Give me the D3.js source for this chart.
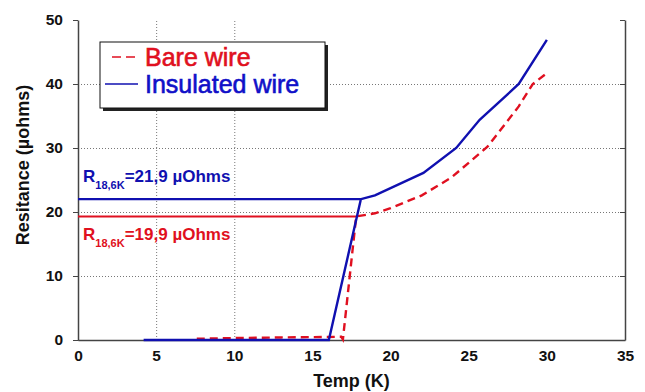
<html>
<head>
<script src="https://d3js.org/d3.v7.min.js"></script>
<style>
  body { margin: 0; background: #fff; }
  text { font-family: "Liberation Sans", Arial, sans-serif; }
  .grid line { stroke: #777; stroke-dasharray: 1,2; }
  .grid .domain { display: none; }
</style>
</head>
<body>
<svg id="chart" width="645" height="392"></svg>
<script>
// values
const xTicks = [0, 5, 10, 15, 20, 25, 30, 35];
const yTicks = [0, 10, 20, 30, 40, 50];
const xGridTicks = [5, 10];
const yGridTicks = [0, 10, 20, 30, 40];

const insTemp = [4.2, 16.05, 18.1, 19, 22.1, 24.2, 25.7, 28.2, 30];
const insRes  = [0,   0,     22,   22.6, 26.1, 30, 34.4, 40, 46.9];

const bareTemp = [7.6, 10, 13, 16.85, 16.95, 17.8, 19, 20, 22, 23.9, 26.2, 28.2, 29.1, 30];
const bareRes  = [0.2, 0.3, 0.4, 0.5, 0.1, 19.3, 19.8, 20.6, 22.6, 25.4, 30.2, 36.5, 40, 41.7];

// R at 18.6 K, horizontal reference lines
const refNames = ["Insulated", "Bare"];
const refLevel = [22.0, 19.3];
const refEnd   = [18.1, 17.8];
const refText  = ["=21,9 µOhms", "=19,9 µOhms"];

const seriesNames = ["Bare wire", "Insulated wire"];
const colBare = "#e01020", colIns = "#1010b0";

const svg = d3.select("#chart");
const margin = { top: 20, right: 20, bottom: 52, left: 78 };
const width = 645, height = 392;
const chartWidth = width - margin.left - margin.right;   // 547
const chartHeight = height - margin.top - margin.bottom; // 320

const g = svg.append("g").attr("transform", `translate(${margin.left},${margin.top})`);

const x = d3.scaleLinear().domain([0, 35]).range([0, chartWidth]);
const y = d3.scaleLinear().domain([0, 50]).range([chartHeight, 0]);

// gridlines
g.append("g").attr("class", "grid")
  .call(d3.axisLeft(y).tickValues(yGridTicks).tickSize(-chartWidth).tickFormat(""));
g.append("g").attr("class", "grid")
  .attr("transform", `translate(0,${chartHeight})`)
  .call(d3.axisBottom(x).tickValues(xGridTicks).tickSize(-chartHeight).tickFormat(""));

// axes
const left = g.append("g")
  .call(d3.axisLeft(y).tickValues(yTicks).tickSize(5).tickSizeOuter(0).tickPadding(10));
const bottom = g.append("g").attr("transform", `translate(0,${chartHeight})`)
  .call(d3.axisBottom(x).tickValues(xTicks).tickSize(0).tickPadding(10));
const right = g.append("g").attr("transform", `translate(${chartWidth},0)`)
  .call(d3.axisLeft(y).tickValues(yTicks).tickSize(5).tickSizeOuter(0).tickFormat(""));
right.selectAll(".tick line").attr("x2", -5);

[left, bottom, right].forEach(a => {
  a.select(".domain").attr("stroke", "#444").attr("stroke-width", 1.5);
  a.selectAll(".tick line").attr("stroke", "#444");
  a.selectAll("text").attr("font-size", 15.5).attr("font-weight", "bold").attr("fill", "#111");
});

// reference lines and labels
const refColors = [colIns, colBare];
refLevel.forEach((lv, i) => {
  g.append("line")
    .attr("x1", x(0)).attr("x2", x(refEnd[i]))
    .attr("y1", y(lv)).attr("y2", y(lv))
    .attr("stroke", refColors[i]).attr("stroke-width", 2.2);
});
const labelY = [y(refLevel[0]) - 17, y(refLevel[1]) + 24];
refText.forEach((t, i) => {
  const tx = g.append("text").attr("x", 5).attr("y", labelY[i])
    .attr("fill", refColors[i]).attr("font-weight", "bold");
  tx.append("tspan").attr("font-size", 17).text("R");
  tx.append("tspan").attr("font-size", 11).attr("dy", 7).text("18,6K");
  tx.append("tspan").attr("font-size", 17).attr("dy", -7).text(t);
});

// series lines
const line = d3.line().x(d => x(d[0])).y(d => y(d[1]));
g.append("path")
  .datum(d3.zip(bareTemp, bareRes))
  .attr("d", line).attr("fill", "none")
  .attr("stroke", colBare).attr("stroke-width", 2.4)
  .attr("stroke-dasharray", "8,5");
g.append("path")
  .datum(d3.zip(insTemp, insRes))
  .attr("d", line).attr("fill", "none")
  .attr("stroke", colIns).attr("stroke-width", 2.4);

// axis titles
svg.append("text").attr("x", margin.left + x(17.5)).attr("y", 387)
  .attr("text-anchor", "middle").attr("font-size", 18).attr("font-weight", "bold")
  .attr("fill", "#111").text("Temp (K)");
svg.append("text").attr("transform", "translate(29,165) rotate(-90)")
  .attr("text-anchor", "middle").attr("font-size", 18).attr("font-weight", "bold")
  .attr("fill", "#111").text("Resitance (µohms)");

// legend
const leg = svg.append("g").attr("transform", "translate(100,42)");
leg.append("rect").attr("x", 3).attr("y", 3).attr("width", 225).attr("height", 66).attr("fill", "#222");
leg.append("rect").attr("width", 225).attr("height", 66).attr("fill", "#fff").attr("stroke", "#111");
const legColors = [colBare, "#1010c8"];
seriesNames.forEach((s, i) => {
  const ly = 15 + i * 27;
  leg.append("line").attr("x1", i ? 5 : 12).attr("x2", 38).attr("y1", ly).attr("y2", ly)
    .attr("stroke", i ? colIns : colBare).attr("stroke-width", 1.6)
    .attr("stroke-dasharray", i ? null : "9,5");
  leg.append("text").attr("x", 45).attr("y", ly + 9).attr("font-size", 25)
    .attr("fill", legColors[i]).attr("stroke", legColors[i]).attr("stroke-width", 0.6)
    .text(s);
});
</script>
</body>
</html>
